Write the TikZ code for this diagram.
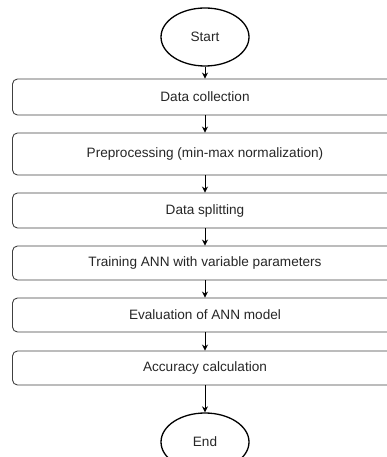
\documentclass[tikz,border=0pt]{standalone}
\usepackage{fontspec}
\setmainfont{Liberation Sans}
\usetikzlibrary{arrows.meta,shapes.geometric}
\begin{document}
\begin{tikzpicture}[x=1pt,y=-1pt,
  txt/.style={text=black!85,font=\fontsize{13.6}{16}\selectfont},
  stepbox/.style={draw=black!75,line width=0.9pt,rounded corners=5pt,minimum width=385pt,inner sep=0pt,txt},
  term/.style={draw=black,line width=1.3pt,ellipse,minimum width=88pt,minimum height=58pt,inner sep=0pt,txt},
  arr/.style={draw=black,line width=0.9pt,-{Stealth[length=6pt,width=6pt]}}]
\useasboundingbox (0,0) rectangle (387,457);
\clip (0,0) rectangle (387,457);
\node[term] (start) at (205,37) {Start};
\node[stepbox,minimum height=36pt] (b1) at (205,97) {Data collection};
\node[stepbox,minimum height=42pt] (b2) at (205,154) {Preprocessing (min-max normalization)};
\node[stepbox,minimum height=35pt] (b3) at (205,210.5) {Data splitting};
\node[stepbox,minimum height=34pt] (b4) at (205,263) {Training ANN with variable parameters};
\node[stepbox,minimum height=34pt] (b5) at (205,315) {Evaluation of ANN model};
\node[stepbox,minimum height=34pt] (b6) at (205,368) {Accuracy calculation};
\node[term] (end) at (205,442) {End};
\draw[arr] (start) -- (b1);
\draw[arr] (b1) -- (b2);
\draw[arr] (b2) -- (b3);
\draw[arr] (b3) -- (b4);
\draw[arr] (b4) -- (b5);
\draw[arr] (b5) -- (b6);
\draw[arr] (b6) -- (end);
\end{tikzpicture}
\end{document}
